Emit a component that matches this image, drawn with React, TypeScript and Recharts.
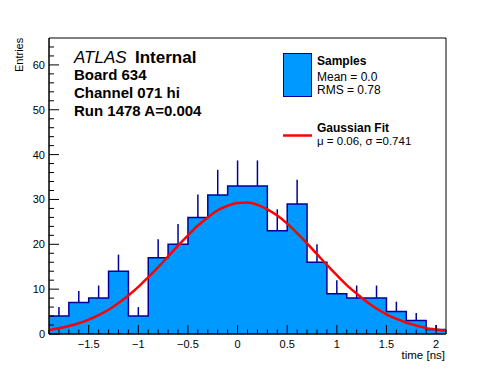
import React from 'react';
import {
	ComposedChart,
	Area,
	Line,
	Scatter,
	ErrorBar,
	XAxis,
	YAxis,
	ReferenceArea,
	Legend
} from 'recharts';

// histogram: 20 bins of 0.2 ns from -1.9 to 2.1
const binEdges = [-1.9, -1.7, -1.5, -1.3, -1.1, -0.9, -0.7, -0.5, -0.3, -0.1, 0.1, 0.3, 0.5, 0.7, 0.9, 1.1, 1.3, 1.5, 1.7, 1.9, 2.1];
const binCenters = [-1.8, -1.6, -1.4, -1.2, -1.0, -0.8, -0.6, -0.4, -0.2, 0.0, 0.2, 0.4, 0.6, 0.8, 1.0, 1.2, 1.4, 1.6, 1.8, 2.0];
const counts = [4, 7, 8, 14, 4, 17, 20, 26, 31, 33, 33, 23, 29, 16, 9, 8, 8, 5, 3, 1];
const errors = [2.0, 2.6, 2.8, 3.7, 2.0, 4.1, 4.5, 5.1, 5.6, 5.7, 5.7, 4.8, 5.4, 4.0, 3.0, 2.8, 2.8, 2.2, 1.7, 1.0];

// gaussian fit curve
const fitX = [-1.9, -1.8, -1.7, -1.6, -1.5, -1.4, -1.3, -1.2, -1.1, -1.0, -0.9, -0.8, -0.7, -0.6, -0.5, -0.4, -0.3, -0.2, -0.1, 0.0,
	0.1, 0.2, 0.3, 0.4, 0.5, 0.6, 0.7, 0.8, 0.9, 1.0, 1.1, 1.2, 1.3, 1.4, 1.5, 1.6, 1.7, 1.8, 1.9, 2.0, 2.1];
const fitY = [0.9, 1.3, 1.8, 2.4, 3.2, 4.2, 5.4, 6.9, 8.6, 10.5, 12.7, 14.9, 17.3, 19.7, 22.0, 24.2, 26.0, 27.6, 28.6, 29.2,
	29.3, 28.8, 27.8, 26.4, 24.6, 22.5, 20.2, 17.8, 15.4, 13.1, 10.9, 9.0, 7.2, 5.7, 4.4, 3.4, 2.5, 1.9, 1.3, 1.0, 0.7];

const xTicks = [-1.9, -1.8, -1.7, -1.6, -1.5, -1.4, -1.3, -1.2, -1.1, -1.0, -0.9, -0.8, -0.7, -0.6, -0.5, -0.4, -0.3, -0.2, -0.1, 0.0,
	0.1, 0.2, 0.3, 0.4, 0.5, 0.6, 0.7, 0.8, 0.9, 1.0, 1.1, 1.2, 1.3, 1.4, 1.5, 1.6, 1.7, 1.8, 1.9, 2.0, 2.1];
const xMajor = [-1.5, -1, -0.5, 0, 0.5, 1, 1.5, 2];
const yTicks = [0, 2, 4, 6, 8, 10, 12, 14, 16, 18, 20, 22, 24, 26, 28, 30, 32, 34, 36, 38, 40, 42, 44, 46, 48, 50, 52, 54, 56, 58, 60, 62, 64];
const yMajor = [0, 10, 20, 30, 40, 50, 60];

const labelLines = ['Board 634', 'Channel 071 hi', 'Run 1478 A=0.004'];
const sampleStats = ['Mean = 0.0', 'RMS = 0.78'];
const fitStats = 'μ = 0.06, σ =0.741';

const fillBlue = '#0099ff';
const lineBlue = '#000099';
const red = '#ff0000';
const font = '"Liberation Sans", Arial, Helvetica, sans-serif';

const histData = binEdges.map((x, i) => ({ x, count: counts[Math.min(i, counts.length - 1)] }));
const errData = binCenters.map((x, i) => ({ x, count: counts[i], err: [0, errors[i]] }));
const fitData = fitX.map((x, i) => ({ x, fit: fitY[i] }));

const fmtX = (v: number) => (v < 0 ? '\u2212' + String(Math.abs(v)) : String(v));

const XTick = (props: any) => {
	const { x, y, payload } = props;
	const v = payload.value;
	const major = xMajor.some((m) => Math.abs(m - v) < 1e-6);
	return (
		<g>
			<line x1={x} x2={x} y1={y} y2={y - (major ? 9 : 4.5)} stroke="#000" strokeWidth={1} />
			{major && (
				<text x={x} y={y + 14} textAnchor="middle" fontSize={11} fill="#000" fontFamily={font}>
					{fmtX(Math.round(v * 10) / 10)}
				</text>
			)}
		</g>
	);
};

const YTick = (props: any) => {
	const { x, y, payload } = props;
	const v = payload.value;
	const major = yMajor.includes(v);
	return (
		<g>
			<line x1={x} x2={x + (major ? 10 : 5)} y1={y} y2={y} stroke="#000" strokeWidth={1} />
			{major && (
				<text x={x - 4} y={y + 4} textAnchor="end" fontSize={11} fill="#000" fontFamily={font}>
					{v}
				</text>
			)}
		</g>
	);
};

const LegendBox = () => (
	<svg width={170} height={110} style={{ display: 'block', fontFamily: font }}>
		<rect x={3.5} y={8.5} width={28} height={43} fill={fillBlue} stroke={lineBlue} strokeWidth={1} />
		<text x={37} y={19.5} fontSize={12} fontWeight="bold">Samples</text>
		{sampleStats.map((s, i) => (
			<text key={s} x={37} y={36 + i * 12.5} fontSize={12}>{s}</text>
		))}
		<line x1={3} x2={32} y1={90.5} y2={90.5} stroke={red} strokeWidth={2.5} />
		<text x={37} y={87} fontSize={12} fontWeight="bold">Gaussian Fit</text>
		<text x={37} y={100} fontSize={11.5}>{fitStats}</text>
	</svg>
);

export default function App() {
	return (
		<div style={{ position: 'absolute', left: 0, top: 0, width: 496, height: 372, background: '#fff', fontFamily: font }}>
			<ComposedChart width={496} height={372} margin={{ top: 38, right: 50, bottom: 0, left: 0 }}>
				<XAxis
					dataKey="x"
					type="number"
					domain={[-1.9, 2.1]}
					ticks={xTicks}
					interval={0}
					allowDataOverflow
					height={38}
					tickSize={0}
					tickMargin={0}
					tickLine={false}
					tick={<XTick />}
					axisLine={{ stroke: '#000' }}
				/>
				<YAxis
					type="number"
					domain={[0, 66]}
					ticks={yTicks}
					interval={0}
					allowDataOverflow
					width={49}
					tickSize={0}
					tickMargin={0}
					tickLine={false}
					tick={<YTick />}
					axisLine={{ stroke: '#000' }}
				/>
				<Area
					data={histData}
					type="stepAfter"
					dataKey="count"
					fill={fillBlue}
					fillOpacity={1}
					stroke={lineBlue}
					strokeWidth={1.5}
					isAnimationActive={false}
				/>
				<Scatter data={errData} dataKey="count" shape={() => <g />} isAnimationActive={false}>
					<ErrorBar dataKey="err" direction="y" width={0} stroke={lineBlue} strokeWidth={1.5} isAnimationActive={false} />
				</Scatter>
				<Line
					data={fitData}
					type="monotone"
					dataKey="fit"
					stroke={red}
					strokeWidth={2.5}
					dot={false}
					isAnimationActive={false}
				/>
				<ReferenceArea x1={-1.9} x2={2.1} y1={0} y2={66} fill="none" stroke="#000" strokeWidth={1} ifOverflow="visible" />
				<Legend
					layout="vertical"
					align="center"
					verticalAlign="middle"
					content={() => <LegendBox />}
					wrapperStyle={{ position: 'absolute', left: 280, top: 45, width: 170, height: 110 }}
				/>
			</ComposedChart>
			<svg width={496} height={372} style={{ position: 'absolute', left: 0, top: 0, pointerEvents: 'none', fontFamily: font }}>
				<text x={74} y={63} fontSize={17} fontStyle="italic">ATLAS</text>
				<text x={135} y={63} fontSize={17} fontWeight="bold">Internal</text>
				{labelLines.map((s, i) => (
					<text key={s} x={74} y={80 + i * 18} fontSize={15} fontWeight="bold">{s}</text>
				))}
				<text x={23} y={72} fontSize={11} transform="rotate(-90 23 72)">Entries</text>
				<text x={445} y={359} fontSize={11.5} textAnchor="end">time [ns]</text>
			</svg>
		</div>
	);
}
